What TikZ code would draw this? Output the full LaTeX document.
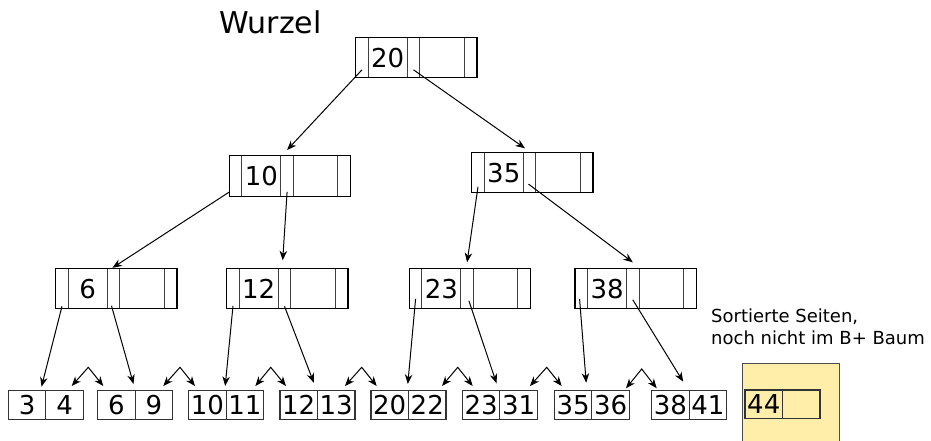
\documentclass[tikz,border=0pt]{standalone}
\usepackage{fontspec}
\setmainfont{DejaVu Sans}
\usetikzlibrary{arrows.meta}

\definecolor{pageyellow}{HTML}{FFEEAA}
\newcommand{\keyfont}{\fontsize{26}{26}\selectfont}

\tikzset{
  cell/.style={draw=black!75, line width=1.1pt, inner sep=0pt, outer sep=0pt, minimum height=40.5pt},
  pcell/.style={cell, minimum width=12.6pt},
  kcellA/.style={cell, minimum width=38.9pt, font=\keyfont},
  kcellB/.style={cell, minimum width=44.5pt},
  frame/.style={draw=black, line width=1.2pt},
  leafcell/.style={draw=black!80, line width=1.1pt, inner sep=0pt, outer sep=0pt,
    minimum width=37.5pt, minimum height=28.6pt, font=\keyfont},
  tip/.tip={Stealth[length=9.5pt, width=7.5pt, inset=3pt]},
  ptr/.style={-tip, line width=1pt},
  sib/.style={tip-tip, line width=1pt},
}

% inner B+ tree page: pointer | key | pointer | key | pointer
\newcommand{\bpage}[4]{%
  \node[pcell, anchor=north west] (#1-0) at (#2,#3) {};
  \node[kcellA, anchor=west] (#1-1) at (#1-0.east) {#4};
  \node[pcell, anchor=west] (#1-2) at (#1-1.east) {};
  \node[kcellB, anchor=west] (#1-3) at (#1-2.east) {};
  \node[pcell, anchor=west] (#1-4) at (#1-3.east) {};
  \draw[frame] (#1-0.north west) rectangle (#1-4.south east);
}
% leaf page with two keys
\newcommand{\bleaf}[5]{%
  \node[leafcell, anchor=north west] (#1a) at (#2,#3) {#4};
  \node[leafcell, anchor=west] (#1b) at (#1a.east) {#5};
}

\begin{document}
\begin{tikzpicture}[x=1pt, y=-1pt]
  \useasboundingbox (0,0) rectangle (931,440);

  \node[inner sep=0pt, font=\fontsize{30}{30}\selectfont] (rootlabel) at (270.5,22) {Wurzel};

  % inner pages
  \bpage{r}{355.7}{37.3}{20}
  \bpage{n10}{229.3}{155.7}{10}
  \bpage{n35}{471.7}{152.3}{35}
  \bpage{n6}{55.7}{268.3}{6}
  \bpage{n12}{226.7}{268.3}{12}
  \bpage{n23}{409.3}{268.3}{23}
  \bpage{n38}{575}{268.3}{38}

  % leaf level
  \bleaf{l1}{8.3}{390.7}{3}{4}
  \bleaf{l2}{97.7}{390.7}{6}{9}
  \bleaf{l3}{188.7}{390.7}{10}{11}
  \bleaf{l4}{280}{390.7}{12}{13}
  \bleaf{l5}{371}{390.7}{20}{22}
  \bleaf{l6}{462.3}{390.7}{23}{31}
  \bleaf{l7}{554.3}{390.7}{35}{36}
  \bleaf{l8}{651.7}{390.7}{38}{41}

  % pages not yet in the tree
  \node[draw=black!70, line width=1pt, fill=pageyellow, inner sep=0pt, outer sep=0pt,
        minimum width=97pt, minimum height=78pt, anchor=north west] (pending) at (742.3,363.3) {};
  \bleaf{l9}{745}{390}{44}{}
  \node[anchor=north west, inner sep=0pt, align=left, font=\fontsize{18}{21.7}\selectfont]
    (note) at (711,308.5) {Sortierte Seiten,\\noch nicht im B+ Baum};

  % child pointers
  \draw[ptr] ([yshift=8pt]r-0.south) -- ([yshift=5.7pt]n10-2.north);
  \draw[ptr] ([yshift=8pt]r-2.south) -- ([xshift=-4.5pt,yshift=4pt]n35-2.north);
  \draw[ptr] ([xshift=-6pt,yshift=4.4pt]n10-0.south) -- ([xshift=-1pt,yshift=0.5pt]n6-2.north);
  \draw[ptr] ([yshift=4.4pt]n10-2.south) -- ([xshift=-1.8pt,yshift=8pt]n12-2.north);
  \draw[ptr] ([yshift=6pt]n35-0.south) -- ([yshift=6pt]n23-2.north);
  \draw[ptr] ([xshift=-1pt,yshift=8.7pt]n35-2.south) -- ([yshift=6pt]n38-2.north);

  \draw[ptr] ([yshift=2.5pt]n6-0.south) -- ([xshift=-4.3pt,yshift=4pt]l1a.north east);
  \draw[ptr] ([xshift=-2pt,yshift=3pt]n6-2.south) -- ([xshift=-1.7pt,yshift=6.7pt]l2a.north east);
  \draw[ptr] ([yshift=3pt]n12-0.south) -- ([xshift=-1pt,yshift=4.7pt]l3a.north east);
  \draw[ptr] ([yshift=2.5pt]n12-2.south) -- ([xshift=-3.7pt,yshift=8pt]l4a.north east);
  \draw[ptr] ([yshift=10pt]n23-0.south) -- ([xshift=-0.7pt,yshift=6.7pt]l5a.north east);
  \draw[ptr] ([xshift=1.8pt,yshift=8pt]n23-2.south) -- ([xshift=-3.3pt,yshift=7.4pt]l6a.north east);
  \draw[ptr] ([xshift=-1.7pt,yshift=9.7pt]n38-0.south) -- ([xshift=-5.6pt,yshift=8pt]l7a.north east);
  \draw[ptr] ([yshift=9pt]n38-2.south) -- ([xshift=-6pt,yshift=9pt]l8a.north east);

  % sibling links between leaves
  \coordinate (k1) at (88.3,367.3);
  \coordinate (k2) at (180,367.3);
  \coordinate (k3) at (270.7,367.3);
  \coordinate (k4) at (361.7,367.3);
  \coordinate (k5) at (457.7,367.3);
  \coordinate (k6) at (546.7,367.3);
  \coordinate (k7) at (641.7,369);
  \draw[sib] ([xshift=-11.6pt,yshift=4.7pt]l1b.north east) -- (k1) -- ([xshift=5.6pt,yshift=4.7pt]l2a.north west);
  \draw[sib] ([xshift=-9.4pt,yshift=4.7pt]l2b.north east) -- (k2) -- ([xshift=6.3pt,yshift=4.7pt]l3a.north west);
  \draw[sib] ([xshift=-8.3pt,yshift=4.7pt]l3b.north east) -- (k3) -- ([xshift=6pt,yshift=4.7pt]l4a.north west);
  \draw[sib] ([xshift=-10pt,yshift=4.7pt]l4b.north east) -- (k4) -- ([xshift=5.7pt,yshift=4.7pt]l5a.north west);
  \draw[sib] ([xshift=-4pt,yshift=4.7pt]l5b.north east) -- (k5) -- ([xshift=10.4pt,yshift=4.7pt]l6a.north west);
  \draw[sib] ([xshift=-7.3pt,yshift=4.7pt]l6b.north east) -- (k6) -- ([xshift=7.4pt,yshift=4.7pt]l7a.north west);
  \draw[sib] ([xshift=-3.3pt,yshift=2.4pt]l7b.north east) -- (k7) -- ([xshift=5pt,yshift=2.4pt]l8a.north west);
\end{tikzpicture}
\end{document}
